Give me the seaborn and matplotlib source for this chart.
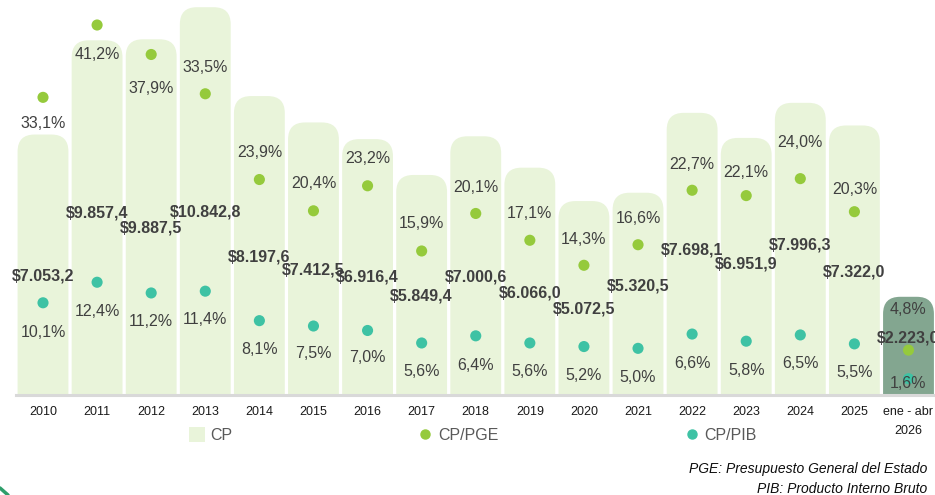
import numpy as np
import pandas as pd
import matplotlib.pyplot as plt
import seaborn as sns
from matplotlib.patches import FancyBboxPatch, Patch
from matplotlib.lines import Line2D

# Data
periodos = ['2010', '2011', '2012', '2013', '2014', '2015', '2016', '2017', '2018',
            '2019', '2020', '2021', '2022', '2023', '2024', '2025', 'ene - abr\n2026']
cp = [7053.2, 9857.4, 9887.5, 10842.8, 8197.6, 7412.5, 6916.4, 5849.4, 7000.6,
      6066.0, 5072.5, 5320.5, 7698.1, 6951.9, 7996.3, 7322.0, 2223.0]
cp_pge = [33.1, 41.2, 37.9, 33.5, 23.9, 20.4, 23.2, 15.9, 20.1,
          17.1, 14.3, 16.6, 22.7, 22.1, 24.0, 20.3, 4.8]
cp_pib = [10.1, 12.4, 11.2, 11.4, 8.1, 7.5, 7.0, 5.6, 6.4,
          5.6, 5.2, 5.0, 6.6, 5.8, 6.5, 5.5, 1.6]

# label placement (pixels, downward positive) - layout only
off_cp = [11, -5, 11, 11, 11, 11, 10, 11, 11, 12, 11, -8, -4, -2, -4, 12, -8]
off_pge = [26, 29, 34, -26, -27, -27, -27, -27, -26, -27, -26, -26, -26, -23, -36, -22, -41]
off_pib = [30, 29, 29, 28, 29, 27, 27, 29, 30, 29, 29, 29, 29, 29, 29, 29, 5]

C_BAR = '#E9F4DA'
C_LAST = '#83A690'
C_PGE = '#95CA3C'
C_PIB = '#3EC2A4'
TXT = '#404040'

sns.set_style('white')
plt.rcParams['font.family'] = ['Liberation Sans', 'DejaVu Sans']

df = pd.DataFrame({'periodo': periodos, 'cp': cp, 'cp_pge': cp_pge, 'cp_pib': cp_pib})
df['pos'] = np.arange(len(df))

fig = plt.figure(figsize=(9.35, 4.95), dpi=100)
ax = fig.add_axes([0, 100 / 495, 1, 395 / 495])

bar_colors = [C_BAR] * (len(df) - 1) + [C_LAST]
sns.barplot(data=df, x='periodo', y='cp', hue='periodo', palette=bar_colors,
            width=0.94, saturation=1, legend=False, ax=ax)
ax.set_xlim(-0.795, 16.49)
ax.set_ylim(-700, 11057)

# rounded tops for the bars
x0p, y0p = ax.transData.transform((0, 0))
x1p, y1p = ax.transData.transform((1, 1000))
px_x = x1p - x0p
px_y = (y1p - y0p) / 1000
rx = 17 / px_x
ry = 17 / px_y
ybot = ax.get_ylim()[0] - 2 * ry
for p in list(ax.patches):
    top = p.get_y() + p.get_height()
    box = FancyBboxPatch((p.get_x(), ybot), p.get_width(), top - ybot,
                         boxstyle=f'round,pad=0,rounding_size={rx}',
                         mutation_aspect=ry / rx, fc=p.get_facecolor(), ec='none')
    p.remove()
    ax.add_patch(box)

for i, v in enumerate(cp):
    txt = '$' + f'{v:,.1f}'.replace(',', 'X').replace('.', ',').replace('X', '.')
    ax.annotate(txt, (i, (ax.get_ylim()[0] + v) / 2), xytext=(0, -off_cp[i]),
                textcoords='offset pixels', ha='center', va='center',
                fontsize=11.5, fontweight='bold', color=TXT)

ax.set_xlabel('')
ax.set_ylabel('')
ax.set_yticks([])
for s in ['top', 'left', 'right']:
    ax.spines[s].set_visible(False)
ax.spines['bottom'].set_color('#D9D9D9')
ax.spines['bottom'].set_linewidth(2.2)
ax.spines['bottom'].set_bounds(-0.5, 16.5)
ax.tick_params(axis='x', length=0, pad=8, labelsize=9, labelcolor='#1a1a1a')
for t in ax.get_xticklabels():
    t.set_linespacing(1.75)

# ratios on a twin axis
ax2 = ax.twinx()
sns.scatterplot(data=df, x='pos', y='cp_pge', color=C_PGE, s=64, edgecolor='none', ax=ax2)
sns.scatterplot(data=df, x='pos', y='cp_pib', color=C_PIB, s=64, edgecolor='none', ax=ax2)
ax2.set_ylim(-0.224, 44.0)
ax2.set_xlim(-0.795, 16.49)
ax2.set_axis_off()

for i in range(len(df)):
    ax2.annotate(f'{cp_pge[i]:.1f}'.replace('.', ',') + '%', (i, cp_pge[i]),
                 xytext=(0, -off_pge[i]), textcoords='offset pixels',
                 ha='center', va='center', fontsize=11.5, color=TXT)
    ax2.annotate(f'{cp_pib[i]:.1f}'.replace('.', ',') + '%', (i, cp_pib[i]),
                 xytext=(0, -off_pib[i]), textcoords='offset pixels',
                 ha='center', va='center', fontsize=11.5, color=TXT)

handles = [
    Patch(fc=C_BAR, ec='none', label='CP'),
    Line2D([], [], marker='o', ls='', color=C_PGE, markersize=6.5, label='CP/PGE'),
    Line2D([], [], marker='o', ls='', color=C_PIB, markersize=6.5, label='CP/PIB'),
]
fig.legend(handles=handles, loc='center', bbox_to_anchor=(0.506, 0.121), ncol=3,
           frameon=False, fontsize=11.5, labelcolor='#595959', columnspacing=11.6,
           handlelength=1.0, handleheight=1.0, handletextpad=0.3)

fig.text(0.9914, 26 / 495, 'PGE: Presupuesto General del Estado', ha='right',
         va='center', style='italic', fontsize=10, color='#0d0d0d')
fig.text(0.9914, 6 / 495, 'PIB: Producto Interno Bruto', ha='right',
         va='center', style='italic', fontsize=10, color='#0d0d0d')

# corner of the green frame, bottom left
fig.add_artist(Line2D([0, 8 / 935], [7 / 495, 0], color='#2E9E6A', lw=2.5,
                      transform=fig.transFigure))

fig.savefig('out.png', dpi=100)
